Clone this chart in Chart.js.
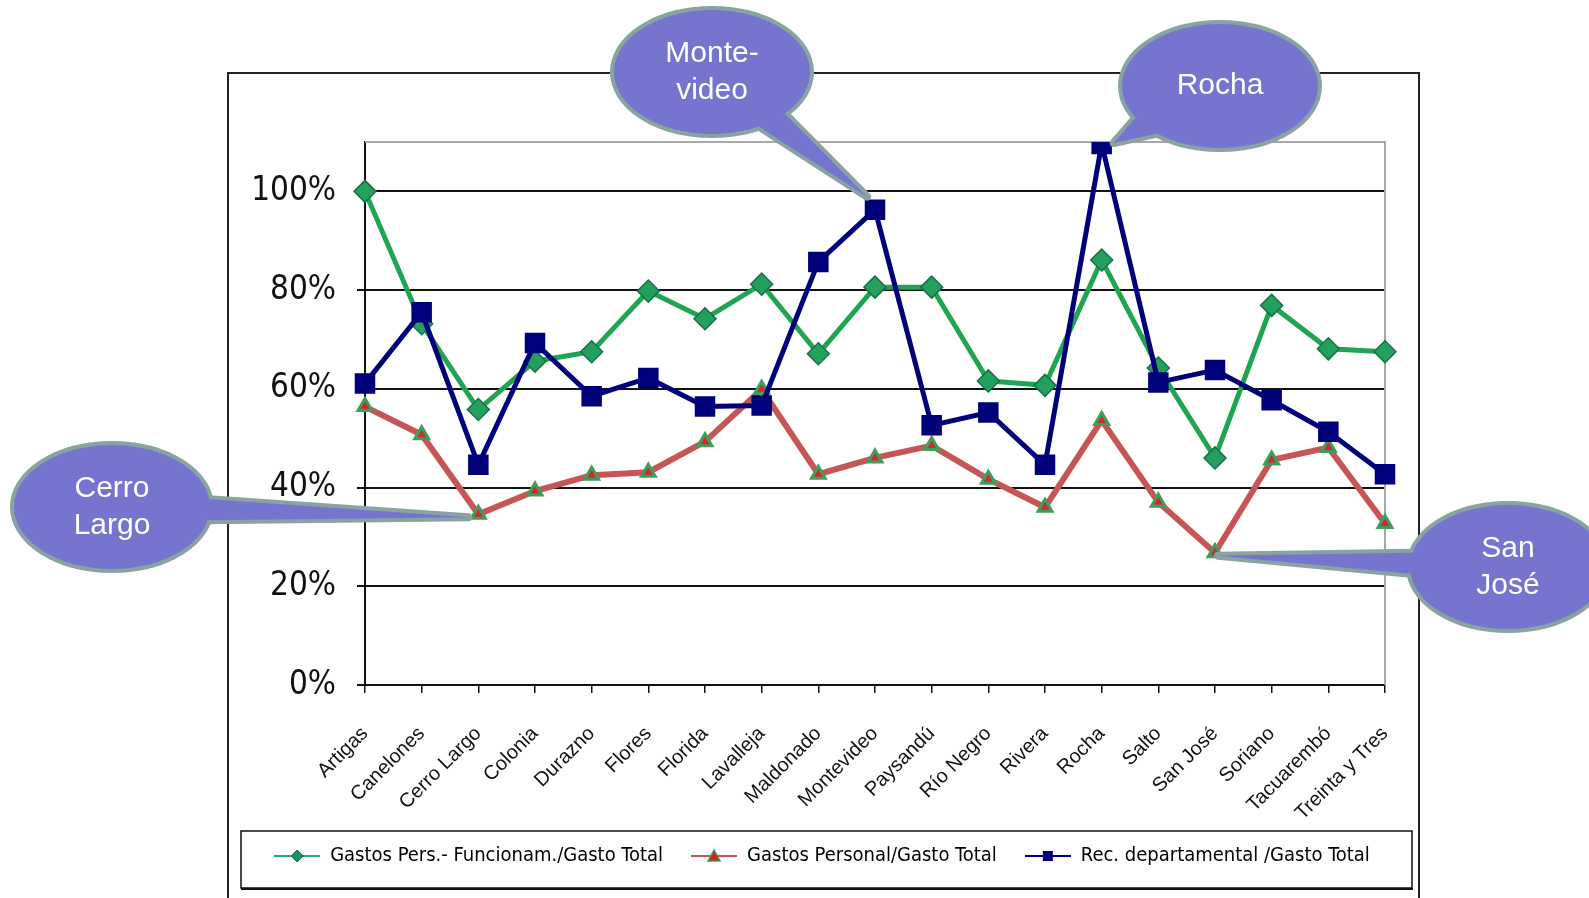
<!DOCTYPE html>
<html>
<head>
<meta charset="utf-8">
<script src="https://cdn.jsdelivr.net/npm/chart.js@4.4.1/dist/chart.umd.min.js"></script>
<style>
  html, body { margin: 0; padding: 0; background: #fff; }
  canvas { display: block; }
</style>
</head>
<body>
<canvas id="chart" width="1589" height="898"></canvas>
<script>
// data (percent)
const departamentos = ['Artigas', 'Canelones', 'Cerro Largo', 'Colonia', 'Durazno', 'Flores', 'Florida',
  'Lavalleja', 'Maldonado', 'Montevideo', 'Paysandú', 'Río Negro', 'Rivera', 'Rocha', 'Salto',
  'San José', 'Soriano', 'Tacuarembó', 'Treinta y Tres'];
const gastosFuncionam = [100, 73.2, 55.8, 65.6, 67.5, 79.8, 74.2, 81.2, 67.1, 80.6, 80.6, 61.6, 60.7, 86.1, 64.2, 46, 76.9, 68.1, 67.5];
const gastosPersonal = [56.4, 50.7, 34.6, 39.3, 42.5, 43.1, 49.3, 59.9, 42.7, 46, 48.5, 41.7, 36, 53.6, 37, 26.8, 45.6, 48.1, 32.7];
const recDepartamental = [61.1, 75.5, 44.6, 69.3, 58.5, 62.2, 56.4, 56.6, 85.7, 96.3, 52.6, 55.2, 44.6, 109.6, 61.3, 63.8, 57.7, 51.3, 42.7];
const yTicks = [0, 20, 40, 60, 80, 100];
const seriesNames = ['Gastos Pers.- Funcionam./Gasto Total', 'Gastos Personal/Gasto Total', 'Rec. departamental /Gasto Total'];

// callout bubbles: text, which point they point to
const callouts = [
  { lines: ['Monte-', 'video'], target: 'Montevideo', series: 2, cx: 712, cy: 72, dx: -8, dy: -13 },
  { lines: ['Rocha'], target: 'Rocha', series: 2, cx: 1220, cy: 86, dx: 12, dy: -1 },
  { lines: ['Cerro', 'Largo'], target: 'Cerro Largo', series: 1, cx: 112, cy: 507, dx: -10, dy: 3 },
  { lines: ['San', 'José'], target: 'San José', series: 1, cx: 1508, cy: 567, dx: 3, dy: 3 }
];

const NARROW = "'DejaVu Sans Condensed', 'Liberation Sans Narrow', sans-serif";
const SANS = "'Liberation Sans', Arial, sans-serif";

const GREEN = '#1fa551';
const RED = '#c65555';
const BLUE = '#00007a';

function legendIcon(color, style) {
  const c = document.createElement('canvas');
  c.width = 46; c.height = 20;
  const g = c.getContext('2d');
  g.strokeStyle = color; g.lineWidth = 2;
  g.beginPath(); g.moveTo(0, 10); g.lineTo(46, 10); g.stroke();
  if (style === 'diamond') {
    g.fillStyle = '#1d8f5a'; g.strokeStyle = '#16604a'; g.lineWidth = 1;
    g.beginPath(); g.moveTo(23, 4); g.lineTo(29, 10); g.lineTo(23, 16); g.lineTo(17, 10); g.closePath();
    g.fill(); g.stroke();
  } else if (style === 'triangle') {
    g.fillStyle = '#d42020'; g.strokeStyle = '#3a9a5a'; g.lineWidth = 1.5;
    g.beginPath(); g.moveTo(23, 4); g.lineTo(29, 15); g.lineTo(17, 15); g.closePath();
    g.fill(); g.stroke();
  } else {
    g.fillStyle = BLUE;
    g.fillRect(18, 5, 10, 10);
  }
  return c;
}
const legendIcons = [legendIcon('#2aa37a', 'diamond'), legendIcon(RED, 'triangle'), legendIcon(BLUE, 'square')];

const framePlugin = {
  id: 'frame',
  afterLayout(chart) {
    // legend sits inside its own box, a bit right of the canvas centre
    chart.legend.left = 244;
    chart.legend.right = 1400;
  },
  beforeDraw(chart) {
    const ctx = chart.ctx;
    ctx.save();
    ctx.fillStyle = '#fff';
    ctx.fillRect(0, 0, chart.width, chart.height);
    ctx.strokeStyle = '#222';
    ctx.lineWidth = 2;
    ctx.strokeRect(228, 73, 1191, 860);
    ctx.restore();
  },
  beforeDatasetsDraw(chart) {
    const { ctx, chartArea: a } = chart;
    ctx.save();
    ctx.strokeStyle = '#a8a8a8';
    ctx.lineWidth = 2;
    ctx.beginPath();
    ctx.moveTo(a.left, a.top);
    ctx.lineTo(a.right, a.top);
    ctx.lineTo(a.right, a.bottom);
    ctx.stroke();
    ctx.restore();
  },
  afterDraw(chart) {
    const ctx = chart.ctx;
    ctx.save();
    // legend box
    ctx.strokeStyle = '#111';
    ctx.lineWidth = 1.5;
    ctx.strokeRect(241, 831, 1171, 57);
    ctx.lineWidth = 2;
    ctx.beginPath(); ctx.moveTo(241, 889); ctx.lineTo(1413, 889); ctx.stroke();

    // callouts
    const xs = chart.scales.x, ys = chart.scales.y;
    const RX = 98, RY = 62;
    callouts.forEach(c => {
      const i = departamentos.indexOf(c.target);
      const v = chart.data.datasets[c.series].data[i];
      const tx = xs.getPixelForValue(i) + c.dx;
      const ty = ys.getPixelForValue(v) + c.dy;
      const t0 = Math.atan2((ty - c.cy) / RY, (tx - c.cx) / RX);
      const d = 0.17;
      const p1 = [c.cx + RX * Math.cos(t0 - d), c.cy + RY * Math.sin(t0 - d)];
      const p2 = [c.cx + RX * Math.cos(t0 + d), c.cy + RY * Math.sin(t0 + d)];
      const wedge = new Path2D();
      wedge.moveTo(p1[0], p1[1]); wedge.lineTo(tx, ty); wedge.lineTo(p2[0], p2[1]); wedge.closePath();
      const oval = new Path2D();
      oval.ellipse(c.cx, c.cy, RX, RY, 0, 0, Math.PI * 2);
      ctx.lineJoin = 'round';
      ctx.strokeStyle = '#88a3a1';
      ctx.lineWidth = 8;
      ctx.stroke(wedge);
      ctx.stroke(oval);
      ctx.fillStyle = '#7575d0';
      ctx.fill(oval);
      ctx.fill(wedge);
      ctx.fillStyle = '#fff';
      ctx.font = '30px ' + SANS;
      ctx.textAlign = 'center';
      ctx.textBaseline = 'middle';
      const lh = 37;
      const y0 = c.cy - (c.lines.length - 1) * lh / 2;
      c.lines.forEach((t, k) => ctx.fillText(t, c.cx, y0 + k * lh));
    });
    ctx.restore();
  }
};

const ctx = document.getElementById('chart').getContext('2d');
new Chart(ctx, {
  type: 'line',
  data: {
    labels: departamentos,
    datasets: [
      {
        label: seriesNames[0],
        data: gastosFuncionam,
        borderColor: GREEN,
        borderWidth: 5,
        pointStyle: 'rectRot',
        pointRadius: 11,
        pointBackgroundColor: '#22a05c',
        pointBorderColor: '#17704c',
        pointBorderWidth: 1.5,
        order: 1
      },
      {
        label: seriesNames[1],
        data: gastosPersonal,
        borderColor: RED,
        borderWidth: 6,
        pointStyle: 'triangle',
        pointRadius: 8,
        pointBackgroundColor: '#d02a2a',
        pointBorderColor: '#3e9e5c',
        pointBorderWidth: 3,
        order: 2
      },
      {
        label: seriesNames[2],
        data: recDepartamental,
        borderColor: BLUE,
        borderWidth: 5,
        pointStyle: 'rect',
        pointRadius: 14.5,
        pointBackgroundColor: BLUE,
        pointBorderColor: BLUE,
        pointBorderWidth: 0,
        order: 0
      }
    ]
  },
  options: {
    responsive: false,
    animation: false,
    layout: { padding: { left: 228, right: 204, top: 142, bottom: 22 } },
    plugins: {
      tooltip: { enabled: false },
      legend: {
        position: 'bottom',
        labels: {
          usePointStyle: true,
          pointStyleWidth: 46,
          padding: 28,
          color: '#222',
          font: { family: NARROW, size: 20 },
          generateLabels: (chart) => chart.data.datasets.map((ds, i) => ({
            text: ds.label,
            pointStyle: legendIcons[i],
            fillStyle: ds.borderColor,
            strokeStyle: ds.borderColor,
            lineWidth: 0,
            hidden: false,
            datasetIndex: i
          }))
        }
      }
    },
    scales: {
      x: {
        offset: false,
        grid: { drawOnChartArea: false, drawTicks: true, tickLength: 8, color: '#111', lineWidth: 1.5 },
        border: { color: '#111', width: 2 },
        ticks: {
          autoSkip: false,
          minRotation: 45,
          maxRotation: 45,
          padding: 29,
          color: '#111',
          font: { family: SANS, size: 20 }
        },
        afterFit: (scale) => { scale.height = 133; }
      },
      y: {
        min: 0,
        max: 110,
        afterBuildTicks: (scale) => { scale.ticks = yTicks.map(v => ({ value: v })); },
        grid: { color: '#111', lineWidth: 2, tickLength: 8 },
        border: { color: '#111', width: 2 },
        ticks: {
          padding: 21,
          color: '#111',
          font: { family: NARROW, size: 33 },
          callback: (v) => v + '%'
        },
        afterFit: (scale) => { scale.width = 137; }
      }
    }
  },
  plugins: [framePlugin]
});
</script>
</body>
</html>
